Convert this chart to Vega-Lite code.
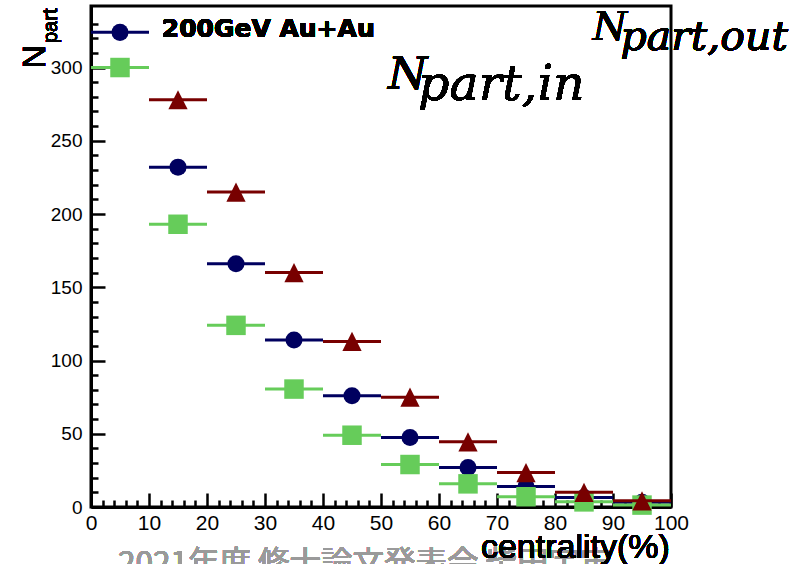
{
  "$schema": "https://vega.github.io/schema/vega-lite/v6.json",
  "width": 580,
  "height": 501,
  "autosize": {"type": "none"},
  "padding": {"left": 91, "top": 6, "right": 131, "bottom": 57},
  "background": "white",
  "config": {
    "view": {"stroke": "black", "strokeWidth": 3},
    "axis": {"grid": false, "title": null, "domainColor": "black", "tickColor": "black", "labelColor": "black", "labelFont": "Liberation Sans"}
  },
  "datasets": {
    "pts": [
      {"series": "total", "centrality": 5, "lo": 0, "hi": 10, "npart": 324},
      {"series": "total", "centrality": 15, "lo": 10, "hi": 20, "npart": 232},
      {"series": "total", "centrality": 25, "lo": 20, "hi": 30, "npart": 166},
      {"series": "total", "centrality": 35, "lo": 30, "hi": 40, "npart": 114},
      {"series": "total", "centrality": 45, "lo": 40, "hi": 50, "npart": 76},
      {"series": "total", "centrality": 55, "lo": 50, "hi": 60, "npart": 47.5},
      {"series": "total", "centrality": 65, "lo": 60, "hi": 70, "npart": 27},
      {"series": "total", "centrality": 75, "lo": 70, "hi": 80, "npart": 14},
      {"series": "total", "centrality": 85, "lo": 80, "hi": 90, "npart": 6.5},
      {"series": "total", "centrality": 95, "lo": 90, "hi": 100, "npart": 3.2},
      {"series": "in", "centrality": 5, "lo": 0, "hi": 10, "npart": 300},
      {"series": "in", "centrality": 15, "lo": 10, "hi": 20, "npart": 193},
      {"series": "in", "centrality": 25, "lo": 20, "hi": 30, "npart": 124},
      {"series": "in", "centrality": 35, "lo": 30, "hi": 40, "npart": 80.5},
      {"series": "in", "centrality": 45, "lo": 40, "hi": 50, "npart": 49},
      {"series": "in", "centrality": 55, "lo": 50, "hi": 60, "npart": 29},
      {"series": "in", "centrality": 65, "lo": 60, "hi": 70, "npart": 15.8},
      {"series": "in", "centrality": 75, "lo": 70, "hi": 80, "npart": 7},
      {"series": "in", "centrality": 85, "lo": 80, "hi": 90, "npart": 3.5},
      {"series": "in", "centrality": 95, "lo": 90, "hi": 100, "npart": 1.3},
      {"series": "out", "centrality": 15, "lo": 10, "hi": 20, "npart": 278},
      {"series": "out", "centrality": 25, "lo": 20, "hi": 30, "npart": 215},
      {"series": "out", "centrality": 35, "lo": 30, "hi": 40, "npart": 160},
      {"series": "out", "centrality": 45, "lo": 40, "hi": 50, "npart": 113},
      {"series": "out", "centrality": 55, "lo": 50, "hi": 60, "npart": 75},
      {"series": "out", "centrality": 65, "lo": 60, "hi": 70, "npart": 44.5},
      {"series": "out", "centrality": 75, "lo": 70, "hi": 80, "npart": 23.5},
      {"series": "out", "centrality": 85, "lo": 80, "hi": 90, "npart": 10},
      {"series": "out", "centrality": 95, "lo": 90, "hi": 100, "npart": 4.2}
    ]
  },
  "data": {"name": "pts"},
  "resolve": {"axis": {"x": "independent", "y": "independent"}},
  "layer": [
    {
      "transform": [{"filter": "datum.series === 'total'"}],
      "mark": {"type": "rule", "color": "#00005f", "strokeWidth": 3},
      "encoding": {
        "x": {"field": "lo", "type": "quantitative", "scale": {"domain": [0, 100], "nice": false, "zero": false},
          "axis": {"orient": "bottom", "values": [0,10,20,30,40,50,60,70,80,90,100], "ticks": false, "domain": true, "domainWidth": 3, "labelFontSize": 21, "labelPadding": 5, "labelFlush": false, "labelOverlap": false}},
        "x2": {"field": "hi"},
        "y": {"field": "npart", "type": "quantitative", "scale": {"domain": [0, 342], "nice": false, "zero": true},
          "axis": {"orient": "left", "values": [0,50,100,150,200,250,300], "ticks": false, "domain": true, "domainWidth": 3, "labelFontSize": 19, "labelPadding": 9, "labelOverlap": false, "labelFlush": false}}
      }
    },
    {
      "transform": [{"filter": "datum.series === 'total'"}],
      "mark": {"type": "point", "shape": "circle", "filled": true, "opacity": 1, "color": "#00005f", "size": 290},
      "encoding": {
        "x": {"field": "centrality", "type": "quantitative",
          "axis": {"orient": "bottom", "values": [0,10,20,30,40,50,60,70,80,90,100], "labels": false, "domain": false, "ticks": true, "tickSize": 14, "offset": -14, "tickWidth": 2.5}},
        "y": {"field": "npart", "type": "quantitative",
          "axis": {"orient": "left", "values": [0,50,100,150,200,250,300], "labels": false, "domain": false, "ticks": true, "tickSize": 14, "offset": -14, "tickWidth": 2.5}}
      }
    },
    {
      "transform": [{"filter": "datum.series === 'in'"}],
      "mark": {"type": "rule", "color": "#66cc5a", "strokeWidth": 3},
      "encoding": {
        "x": {"field": "lo", "type": "quantitative",
          "axis": {"orient": "bottom", "values": [2,4,6,8,12,14,16,18,22,24,26,28,32,34,36,38,42,44,46,48,52,54,56,58,62,64,66,68,72,74,76,78,82,84,86,88,92,94,96,98], "labels": false, "domain": false, "ticks": true, "tickSize": 7, "offset": -7, "tickWidth": 2.5}},
        "x2": {"field": "hi"},
        "y": {"field": "npart", "type": "quantitative",
          "axis": {"orient": "left", "values": [10,20,30,40,60,70,80,90,110,120,130,140,160,170,180,190,210,220,230,240,260,270,280,290,310,320,330], "labels": false, "domain": false, "ticks": true, "tickSize": 7, "offset": -7, "tickWidth": 2.5}}
      }
    },
    {
      "transform": [{"filter": "datum.series === 'in'"}],
      "mark": {"type": "point", "shape": "square", "filled": true, "opacity": 1, "color": "#66cc5a", "size": 380},
      "encoding": {
        "x": {"field": "centrality", "type": "quantitative", "axis": null},
        "y": {"field": "npart", "type": "quantitative", "axis": null}
      }
    },
    {
      "transform": [{"filter": "datum.series === 'out'"}],
      "mark": {"type": "rule", "color": "#780000", "strokeWidth": 3},
      "encoding": {
        "x": {"field": "lo", "type": "quantitative", "axis": null},
        "x2": {"field": "hi"},
        "y": {"field": "npart", "type": "quantitative", "axis": null}
      }
    },
    {
      "transform": [{"filter": "datum.series === 'out'"}],
      "mark": {"type": "point", "shape": "M0,-1L1,1L-1,1Z", "filled": true, "opacity": 1, "color": "#780000", "size": 370},
      "encoding": {
        "x": {"field": "centrality", "type": "quantitative", "axis": null},
        "y": {"field": "npart", "type": "quantitative", "axis": null}
      }
    },
    {
      "mark": {"type": "text", "text": "200GeV Au+Au", "font": "DejaVu Sans", "fontWeight": "bold", "fontSize": 25, "align": "left", "baseline": "alphabetic", "color": "black"},
      "encoding": {"x": {"datum": 12.2, "type": "quantitative", "axis": null}, "y": {"datum": 320.6, "type": "quantitative", "axis": null}}
    },
    {
      "mark": {"type": "text", "text": "N", "font": "DejaVu Serif", "fontStyle": "italic", "fontSize": 45, "align": "left", "baseline": "alphabetic", "color": "black"},
      "encoding": {"x": {"datum": 51.2, "type": "quantitative", "axis": null}, "y": {"datum": 285.3, "type": "quantitative", "axis": null}}
    },
    {
      "mark": {"type": "text", "text": "part,in", "font": "DejaVu Serif", "fontStyle": "italic", "fontSize": 49, "align": "left", "baseline": "alphabetic", "color": "black"},
      "encoding": {"x": {"datum": 56.4, "type": "quantitative", "axis": null}, "y": {"datum": 277.8, "type": "quantitative", "axis": null}}
    },
    {
      "mark": {"type": "text", "text": "N", "font": "DejaVu Serif", "fontStyle": "italic", "fontSize": 39, "align": "left", "baseline": "alphabetic", "color": "black"},
      "encoding": {"x": {"datum": 86.5, "type": "quantitative", "axis": null}, "y": {"datum": 318.8, "type": "quantitative", "axis": null}}
    },
    {
      "mark": {"type": "text", "text": "part,out", "font": "DejaVu Serif", "fontStyle": "italic", "fontSize": 41, "align": "left", "baseline": "alphabetic", "color": "black"},
      "encoding": {"x": {"datum": 91.3, "type": "quantitative", "axis": null}, "y": {"datum": 312.0, "type": "quantitative", "axis": null}}
    },
    {
      "mark": {"type": "text", "text": "N", "font": "Liberation Sans", "fontSize": 32, "angle": 270, "align": "center", "baseline": "alphabetic", "color": "black"},
      "encoding": {"x": {"datum": -7.9, "type": "quantitative", "axis": null}, "y": {"datum": 307.4, "type": "quantitative", "axis": null}}
    },
    {
      "mark": {"type": "text", "text": "part", "font": "Liberation Sans", "fontSize": 20, "angle": 270, "align": "center", "baseline": "alphabetic", "color": "black"},
      "encoding": {"x": {"datum": -5.9, "type": "quantitative", "axis": null}, "y": {"datum": 328.5, "type": "quantitative", "axis": null}}
    },
    {
      "mark": {"type": "text", "text": "2021年度 修士論文発表会 柴田宇宙", "font": "Noto Sans CJK JP", "fontSize": 31.5, "align": "left", "baseline": "alphabetic", "color": "#9a9a9a"},
      "encoding": {"x": {"datum": 4.66, "type": "quantitative", "axis": null}, "y": {"datum": -45.4, "type": "quantitative", "axis": null}}
    },
    {
      "mark": {"type": "text", "text": "centrality(%)", "font": "Liberation Sans", "fontSize": 34, "align": "right", "baseline": "alphabetic", "color": "black"},
      "encoding": {"x": {"datum": 99.8, "type": "quantitative", "axis": null}, "y": {"datum": -34.8, "type": "quantitative", "axis": null}}
    }
  ]
}
